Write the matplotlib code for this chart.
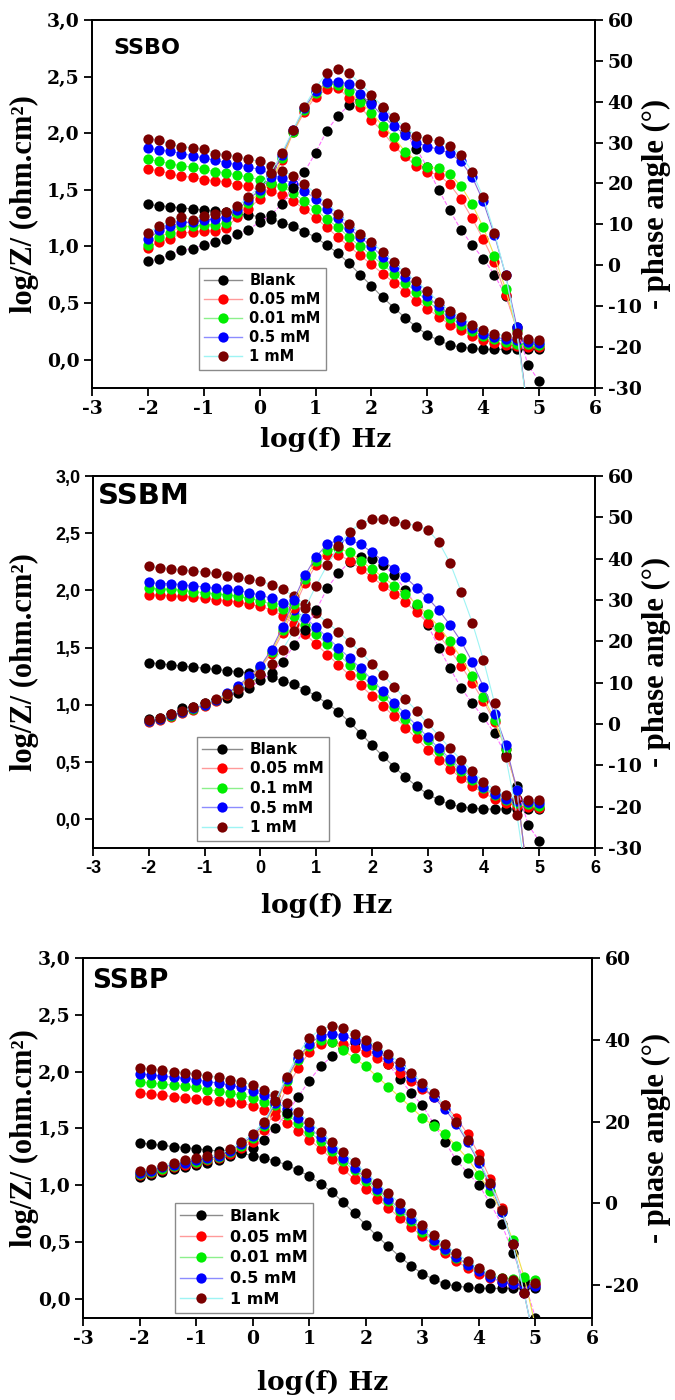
import matplotlib
matplotlib.use("Agg")
import matplotlib.pyplot as plt
from matplotlib.ticker import FuncFormatter, FixedLocator
from matplotlib.lines import Line2D

plt.rcParams["axes.unicode_minus"] = False

# log of frequency (Hz), 5 points per decade
LOG_F = [-2.0, -1.8, -1.6, -1.4, -1.2, -1.0, -0.8, -0.6, -0.4, -0.2,
         0.0, 0.2, 0.4, 0.6, 0.8, 1.0, 1.2, 1.4, 1.6, 1.8,
         2.0, 2.2, 2.4, 2.6, 2.8, 3.0, 3.2, 3.4, 3.6, 3.8,
         4.0, 4.2, 4.4, 4.6, 4.8, 5.0]

# ---------------- SSBO ----------------
SSBO_MOD_BLANK = [1.37, 1.36, 1.35, 1.34, 1.33, 1.32, 1.31, 1.30, 1.29, 1.28,
                  1.26, 1.24, 1.21, 1.18, 1.13, 1.08, 1.01, 0.94, 0.85, 0.75,
                  0.65, 0.55, 0.46, 0.37, 0.29, 0.22, 0.17, 0.13, 0.11, 0.10,
                  0.09, 0.09, 0.09, 0.09, 0.09, 0.09]
SSBO_MOD_C1 = [1.68, 1.67, 1.64, 1.62, 1.61, 1.59, 1.58, 1.57, 1.54, 1.53,
               1.50, 1.49, 1.45, 1.40, 1.33, 1.25, 1.17, 1.08, 1.00, 0.92,
               0.84, 0.76, 0.68, 0.60, 0.52, 0.45, 0.38, 0.31, 0.26, 0.21,
               0.17, 0.15, 0.13, 0.12, 0.11, 0.11]
SSBO_MOD_C2 = [1.77, 1.75, 1.73, 1.71, 1.70, 1.68, 1.66, 1.65, 1.63, 1.61,
               1.59, 1.56, 1.53, 1.47, 1.40, 1.33, 1.24, 1.17, 1.08, 1.00,
               0.92, 0.84, 0.76, 0.68, 0.60, 0.52, 0.44, 0.37, 0.31, 0.25,
               0.21, 0.18, 0.16, 0.14, 0.14, 0.13]
SSBO_MOD_C3 = [1.87, 1.85, 1.84, 1.82, 1.80, 1.78, 1.76, 1.74, 1.72, 1.70,
               1.68, 1.64, 1.60, 1.55, 1.49, 1.42, 1.33, 1.25, 1.16, 1.08,
               1.00, 0.91, 0.82, 0.73, 0.65, 0.56, 0.47, 0.40, 0.34, 0.28,
               0.23, 0.20, 0.18, 0.17, 0.16, 0.15]
SSBO_MOD_C4 = [1.95, 1.94, 1.90, 1.88, 1.87, 1.86, 1.82, 1.81, 1.79, 1.77,
               1.75, 1.71, 1.67, 1.62, 1.55, 1.47, 1.38, 1.29, 1.20, 1.11,
               1.04, 0.95, 0.86, 0.77, 0.69, 0.61, 0.51, 0.43, 0.38, 0.31,
               0.26, 0.23, 0.21, 0.19, 0.18, 0.17]

SSBO_PH_BLANK = [1.1, 1.5, 2.5, 3.8, 4.0, 5.0, 5.7, 6.4, 7.6, 8.7,
                 10.6, 12.3, 15.0, 19.0, 22.8, 27.5, 32.9, 36.5, 39.2, 40.5,
                 40.0, 38.5, 36.0, 32.5, 28.5, 24.0, 18.5, 13.5, 8.7, 5.0,
                 1.6, -2.3, -7.5, -15.0, -24.4, -28.3]
SSBO_PH_C1 = [4.2, 5.8, 6.5, 7.8, 8.2, 8.4, 8.4, 9.2, 11.8, 13.8,
              16.3, 19.6, 25.8, 32.5, 37.5, 41.2, 43.0, 43.3, 40.9, 38.8,
              35.5, 32.7, 29.2, 26.6, 24.3, 22.9, 22.1, 19.8, 16.2, 11.5,
              6.4, 0.7, -7.2, -15.6, -36.0, -60.0]
SSBO_PH_C2 = [5.0, 7.0, 7.9, 9.5, 9.5, 9.9, 9.9, 10.4, 12.8, 15.3,
              17.7, 20.1, 26.2, 32.7, 38.0, 42.0, 44.5, 44.1, 42.5, 40.0,
              37.3, 34.1, 31.3, 27.8, 25.6, 24.0, 23.7, 22.3, 19.4, 15.0,
              9.3, 2.3, -5.8, -15.8, -36.0, -60.0]
SSBO_PH_C3 = [6.3, 8.5, 9.5, 10.5, 10.5, 11.0, 11.3, 11.8, 13.5, 16.0,
              18.5, 21.5, 27.0, 33.0, 38.5, 42.5, 44.7, 44.9, 44.3, 41.8,
              39.4, 36.5, 34.1, 31.9, 30.0, 29.0, 28.4, 27.4, 25.4, 21.7,
              15.6, 7.4, -2.3, -15.0, -36.0, -60.0]
SSBO_PH_C4 = [8.0, 9.5, 10.9, 11.8, 11.1, 12.1, 12.6, 12.9, 14.4, 16.7,
              19.2, 22.6, 27.5, 33.1, 38.8, 43.4, 47.0, 48.0, 47.0, 44.4,
              41.7, 38.8, 36.2, 33.7, 31.7, 30.8, 30.3, 29.2, 27.0, 22.9,
              16.6, 8.0, -2.3, -16.5, -36.0, -60.0]

# ---------------- SSBM ----------------
SSBM_MOD_BLANK = [1.37, 1.36, 1.35, 1.34, 1.33, 1.32, 1.31, 1.30, 1.29, 1.28,
                  1.26, 1.24, 1.21, 1.18, 1.13, 1.08, 1.01, 0.94, 0.85, 0.75,
                  0.65, 0.55, 0.46, 0.37, 0.29, 0.22, 0.17, 0.13, 0.11, 0.10,
                  0.09, 0.09, 0.09, 0.09, 0.09, 0.09]
SSBM_MOD_C1 = [1.96, 1.96, 1.95, 1.95, 1.94, 1.93, 1.92, 1.91, 1.90, 1.88,
               1.86, 1.83, 1.78, 1.71, 1.62, 1.53, 1.44, 1.35, 1.26, 1.17,
               1.08, 0.99, 0.90, 0.80, 0.71, 0.61, 0.52, 0.44, 0.36, 0.29,
               0.23, 0.18, 0.14, 0.12, 0.11, 0.10]
SSBM_MOD_C2 = [2.02, 2.01, 2.01, 2.00, 1.99, 1.98, 1.97, 1.96, 1.95, 1.93,
               1.91, 1.88, 1.84, 1.78, 1.70, 1.62, 1.53, 1.44, 1.35, 1.26,
               1.17, 1.08, 0.98, 0.88, 0.79, 0.69, 0.60, 0.51, 0.42, 0.34,
               0.27, 0.21, 0.17, 0.14, 0.13, 0.12]
SSBM_MOD_C3 = [2.07, 2.06, 2.06, 2.05, 2.04, 2.03, 2.02, 2.01, 2.00, 1.98,
               1.96, 1.93, 1.89, 1.83, 1.76, 1.68, 1.59, 1.50, 1.41, 1.32,
               1.22, 1.12, 1.02, 0.92, 0.82, 0.72, 0.62, 0.53, 0.44, 0.36,
               0.28, 0.22, 0.18, 0.16, 0.15, 0.14]
SSBM_MOD_C4 = [2.21, 2.20, 2.19, 2.18, 2.17, 2.16, 2.15, 2.13, 2.12, 2.10,
               2.08, 2.05, 2.01, 1.95, 1.88, 1.80, 1.72, 1.64, 1.55, 1.46,
               1.36, 1.26, 1.16, 1.05, 0.95, 0.84, 0.73, 0.62, 0.52, 0.42,
               0.33, 0.26, 0.21, 0.18, 0.17, 0.17]

SSBM_PH_BLANK = [1.1, 1.5, 2.5, 3.8, 4.0, 5.0, 5.7, 6.4, 7.6, 8.7,
                 10.6, 12.3, 15.0, 19.0, 22.8, 27.5, 32.9, 36.5, 39.2, 40.5,
                 40.0, 38.5, 36.0, 32.5, 28.5, 24.0, 18.5, 13.5, 8.7, 5.0,
                 1.6, -2.3, -7.5, -15.0, -24.4, -28.3]
SSBM_PH_C1 = [0.5, 1.0, 1.8, 2.6, 3.5, 4.3, 5.5, 7.0, 8.8, 11.0,
              13.5, 17.0, 22.0, 28.0, 34.0, 38.5, 41.0, 41.0, 39.5, 37.5,
              35.5, 33.5, 31.5, 29.5, 27.0, 24.5, 21.5, 18.0, 14.0, 10.0,
              5.5, 0.5, -6.0, -16.0, -38.0, -60.0]
SSBM_PH_C2 = [0.7, 1.2, 2.0, 2.8, 3.7, 4.5, 5.7, 7.2, 9.0, 11.2,
              13.8, 17.5, 22.8, 29.0, 35.0, 39.5, 42.0, 42.5, 41.5, 39.5,
              37.5, 35.5, 33.5, 31.5, 29.0, 26.5, 23.5, 20.0, 16.0, 11.5,
              6.5, 1.0, -6.0, -16.0, -38.0, -60.0]
SSBM_PH_C3 = [0.8, 1.3, 2.1, 3.0, 3.8, 4.7, 5.9, 7.4, 9.2, 11.5,
              14.0, 18.0, 23.5, 30.0, 36.0, 40.5, 43.5, 44.5, 44.5, 43.5,
              41.5, 39.5, 37.5, 35.5, 33.0, 30.5, 27.5, 24.0, 20.0, 15.0,
              9.0, 2.5, -5.0, -16.0, -38.0, -60.0]
SSBM_PH_C4 = [1.0, 1.5, 2.3, 3.2, 4.0, 5.0, 6.0, 7.2, 8.5, 10.0,
              12.0, 14.5, 18.0, 22.5, 28.0, 33.5, 38.5, 43.0, 46.5, 48.5,
              49.5, 49.5, 49.0, 48.5, 48.0, 47.0, 44.0, 39.0, 32.0, 24.5,
              15.5, 5.0, -8.0, -22.0, -40.0, -60.0]

# ---------------- SSBP ----------------
SSBP_MOD_BLANK = [1.37, 1.36, 1.35, 1.34, 1.33, 1.32, 1.31, 1.30, 1.29, 1.28,
                  1.26, 1.24, 1.21, 1.18, 1.13, 1.08, 1.01, 0.94, 0.85, 0.75,
                  0.65, 0.55, 0.46, 0.37, 0.29, 0.22, 0.17, 0.13, 0.11, 0.10,
                  0.09, 0.09, 0.09, 0.09, 0.09, 0.09]
SSBP_MOD_C1 = [1.81, 1.80, 1.79, 1.78, 1.77, 1.76, 1.75, 1.74, 1.73, 1.72,
               1.70, 1.66, 1.61, 1.55, 1.48, 1.40, 1.32, 1.23, 1.14, 1.05,
               0.97, 0.88, 0.80, 0.71, 0.63, 0.55, 0.47, 0.40, 0.33, 0.27,
               0.22, 0.18, 0.15, 0.13, 0.12, 0.12]
SSBP_MOD_C2 = [1.91, 1.90, 1.89, 1.88, 1.87, 1.86, 1.84, 1.83, 1.81, 1.79,
               1.77, 1.73, 1.68, 1.62, 1.55, 1.47, 1.39, 1.30, 1.21, 1.13,
               1.04, 0.95, 0.86, 0.77, 0.68, 0.59, 0.51, 0.43, 0.36, 0.30,
               0.25, 0.21, 0.18, 0.17, 0.16, 0.16]
SSBP_MOD_C3 = [1.98, 1.97, 1.96, 1.95, 1.94, 1.93, 1.91, 1.90, 1.88, 1.86,
               1.83, 1.79, 1.74, 1.67, 1.59, 1.51, 1.42, 1.33, 1.24, 1.15,
               1.06, 0.97, 0.88, 0.79, 0.70, 0.61, 0.52, 0.44, 0.37, 0.30,
               0.24, 0.19, 0.15, 0.13, 0.12, 0.11]
SSBP_MOD_C4 = [2.03, 2.02, 2.01, 2.00, 1.99, 1.98, 1.96, 1.95, 1.93, 1.91,
               1.88, 1.84, 1.79, 1.72, 1.64, 1.56, 1.47, 1.38, 1.29, 1.20,
               1.11, 1.02, 0.93, 0.84, 0.75, 0.65, 0.56, 0.48, 0.40, 0.33,
               0.27, 0.22, 0.18, 0.16, 0.15, 0.14]

SSBP_PH_BLANK = [6.5, 7.0, 7.8, 8.5, 9.0, 9.5, 10.0, 10.5, 11.5, 12.5,
                 13.5, 15.5, 18.5, 22.0, 26.0, 30.0, 33.5, 36.0, 38.0, 39.5,
                 39.0, 37.0, 34.0, 30.5, 27.0, 24.0, 19.5, 15.0, 10.6, 7.5,
                 4.5, 0.0, -5.0, -12.0, -19.0, -28.0]
SSBP_PH_C1 = [7.0, 7.5, 8.2, 9.0, 9.5, 10.0, 10.5, 11.0, 12.0, 13.5,
              15.0, 18.0, 22.5, 28.0, 33.0, 37.0, 39.0, 39.5, 39.0, 38.0,
              37.0, 35.5, 34.0, 32.0, 30.0, 28.0, 26.0, 24.0, 21.0, 17.0,
              12.0, 6.0, -1.0, -10.0, -22.0, -35.0]
SSBP_PH_C2 = [7.2, 7.8, 8.5, 9.2, 9.8, 10.2, 10.8, 11.3, 12.5, 14.0,
              16.0, 19.0, 24.0, 30.0, 35.0, 38.5, 40.0, 39.5, 37.5, 35.5,
              33.5, 31.0, 28.5, 26.0, 23.5, 21.0, 19.0, 17.0, 14.0, 11.0,
              7.0, 3.0, -2.0, -9.0, -18.0, -30.0]
SSBP_PH_C3 = [7.5, 8.0, 8.8, 9.5, 10.0, 10.5, 11.0, 11.5, 12.8, 14.5,
              16.5, 19.5, 24.5, 30.5, 35.5, 39.0, 41.0, 41.5, 41.0, 40.0,
              38.5, 37.0, 35.5, 33.5, 31.0, 28.5, 26.0, 23.0, 19.5, 15.0,
              10.0, 4.5, -2.0, -10.0, -22.0, -35.0]
SSBP_PH_C4 = [8.0, 8.5, 9.2, 10.0, 10.5, 11.0, 11.5, 12.0, 13.2, 15.0,
              17.0, 20.0, 25.0, 31.0, 36.5, 40.5, 42.5, 43.5, 43.0, 41.5,
              40.0, 38.5, 36.5, 34.5, 32.0, 29.5, 27.0, 24.0, 20.0, 15.5,
              10.5, 5.0, -1.5, -10.0, -22.0, -35.0]

LABELS_SSBO = ["Blank", "0.05 mM", "0.01 mM", "0.5 mM", "1 mM"]
LABELS_SSBM = ["Blank", "0.05 mM", "0.1 mM", "0.5 mM", "1 mM"]
LABELS_SSBP = ["Blank", "0.05 mM", "0.01 mM", "0.5 mM", "1 mM"]

MARKER_COLORS = ["#000000", "#ff0000", "#00ee00", "#0000ff", "#7a0000"]
MOD_LINE_COLORS = ["#8c8c8c", "#ff9a9a", "#8cf08c", "#8c8cff", "#9ef4f4"]
PH_LINE_COLORS = ["#ff70ff", "#ff9a9a", "#f2e04a", "#8a6ad8", "#9ef4f4"]
PH_LINE_STYLES = ["--", "-", "-", "-", "-"]

SERIF = "Liberation Serif"
WIDE_SERIF = "DejaVu Serif"
SANS = "DejaVu Sans"
ARIAL = "Liberation Sans"

FIG_W, FIG_H = 675, 1400


def comma_fmt(v, pos):
    return f"{v:.1f}".replace(".", ",")


def int_fmt(v, pos):
    return f"{int(round(v))}"


def draw_panel(rect, title, title_size, title_xy, mods, phases, labels,
               ph_lim, ph_ticks, mod_lim, legend_anchor, legend_size,
               legend_spacing, left_tick_font, bottom_tick_font, xlabel_xy):
    ax = fig.add_axes(rect)
    ax2 = ax.twinx()
    for i in range(5):
        ax.plot(LOG_F, mods[i], color=MOD_LINE_COLORS[i], lw=0.8,
                marker="o", ms=7.4, mfc=MARKER_COLORS[i],
                mec=MARKER_COLORS[i], mew=0, zorder=3 + i)
    for i in range(5):
        ax2.plot(LOG_F, phases[i], color=PH_LINE_COLORS[i], lw=0.8,
                 ls=PH_LINE_STYLES[i], marker="o", ms=7.4,
                 mfc=MARKER_COLORS[i], mec=MARKER_COLORS[i], mew=0,
                 zorder=3 + i)

    ax.set_xlim(-3, 6)
    ax.set_ylim(*mod_lim)
    ax2.set_ylim(*ph_lim)
    ax.xaxis.set_major_locator(FixedLocator(list(range(-3, 7))))
    ax.yaxis.set_major_locator(FixedLocator([0.0, 0.5, 1.0, 1.5, 2.0, 2.5, 3.0]))
    ax.yaxis.set_major_formatter(FuncFormatter(comma_fmt))
    ax.xaxis.set_major_formatter(FuncFormatter(int_fmt))
    ax2.yaxis.set_major_locator(FixedLocator(ph_ticks))
    ax2.yaxis.set_major_formatter(FuncFormatter(int_fmt))

    for a in (ax, ax2):
        for s in a.spines.values():
            s.set_linewidth(1.3)
    ax.tick_params(axis="both", direction="out", length=6, width=1.3,
                   top=False, right=False, pad=3)
    ax2.tick_params(axis="y", direction="out", length=6, width=1.3, pad=3)

    def style(labs, family):
        for lab in labs:
            lab.set_fontfamily(family)
            lab.set_fontweight("bold")
            lab.set_fontsize(13.5 if family == WIDE_SERIF else 13)

    style(ax.get_yticklabels(), left_tick_font)
    style(ax.get_xticklabels(), bottom_tick_font)
    style(ax2.get_yticklabels(), WIDE_SERIF)

    ax.set_xlabel("log(f) Hz", fontfamily=WIDE_SERIF, fontweight="bold",
                  fontsize=19)
    ax.xaxis.set_label_coords(*xlabel_xy)

    # axis titles on both sides, centred on the panel height
    left, bottom, width, height = rect
    yc = bottom + height / 2
    fig.text(24 / FIG_W, yc, "log/Z/ (ohm.cm²)", rotation=90,
             ha="center", va="center", fontfamily=SERIF,
             fontweight="bold", fontsize=22)
    fig.text(656 / FIG_W, yc, "- phase angle (°)", rotation=90,
             ha="center", va="center", fontfamily=SERIF,
             fontweight="bold", fontsize=22)

    ax.text(title_xy[0], title_xy[1], title, transform=ax.transAxes,
            ha="left", va="top", fontfamily=SANS, fontweight="bold",
            fontsize=title_size, zorder=20)

    handles = [Line2D([0], [0], color=MOD_LINE_COLORS[i], lw=1.0,
                      marker="o", ms=7.4, mfc=MARKER_COLORS[i], mew=0)
               for i in range(5)]
    leg = ax2.legend(handles, labels, loc="lower left",
                     bbox_to_anchor=legend_anchor, frameon=True,
                     fancybox=False, framealpha=1, edgecolor="#8a8a8a",
                     prop={"family": SANS, "weight": "bold",
                           "size": legend_size},
                     handlelength=2.6, handletextpad=0.5,
                     labelspacing=legend_spacing,
                     borderpad=0.35, borderaxespad=0)
    leg.get_frame().set_linewidth(1.0)
    leg.set_zorder(30)
    return ax, ax2


fig = plt.figure(figsize=(FIG_W / 100, FIG_H / 100), dpi=100)

draw_panel([0.1363, 0.7229, 0.7452, 0.2629], "SSBO", 16, (0.042, 0.95),
           [SSBO_MOD_BLANK, SSBO_MOD_C1, SSBO_MOD_C2, SSBO_MOD_C3, SSBO_MOD_C4],
           [SSBO_PH_BLANK, SSBO_PH_C1, SSBO_PH_C2, SSBO_PH_C3, SSBO_PH_C4],
           LABELS_SSBO, (-30, 60), [-30, -20, -10, 0, 10, 20, 30, 40, 50, 60],
           (-0.25, 3.0), (0.213, 0.05), 10.5, 0.28, WIDE_SERIF, WIDE_SERIF,
           (0.465, -0.105))

draw_panel([0.1378, 0.3943, 0.7437, 0.2657], "SSBM", 21, (0.01, 0.985),
           [SSBM_MOD_BLANK, SSBM_MOD_C1, SSBM_MOD_C2, SSBM_MOD_C3, SSBM_MOD_C4],
           [SSBM_PH_BLANK, SSBM_PH_C1, SSBM_PH_C2, SSBM_PH_C3, SSBM_PH_C4],
           LABELS_SSBM, (-30, 60), [-30, -20, -10, 0, 10, 20, 30, 40, 50, 60],
           (-0.25, 3.0), (0.207, 0.02), 11, 0.30, ARIAL, ARIAL,
           (0.466, -0.122))

draw_panel([0.1230, 0.0586, 0.7541, 0.2571], "SSBP", 19, (0.018, 0.972),
           [SSBP_MOD_BLANK, SSBP_MOD_C1, SSBP_MOD_C2, SSBP_MOD_C3, SSBP_MOD_C4],
           [SSBP_PH_BLANK, SSBP_PH_C1, SSBP_PH_C2, SSBP_PH_C3, SSBP_PH_C4],
           LABELS_SSBP, (-28, 60), [-20, 0, 20, 40, 60],
           (-0.17, 3.0), (0.18, 0.015), 11.5, 0.36, WIDE_SERIF, WIDE_SERIF,
           (0.47, -0.145))

fig.savefig("out.png", dpi=100)
